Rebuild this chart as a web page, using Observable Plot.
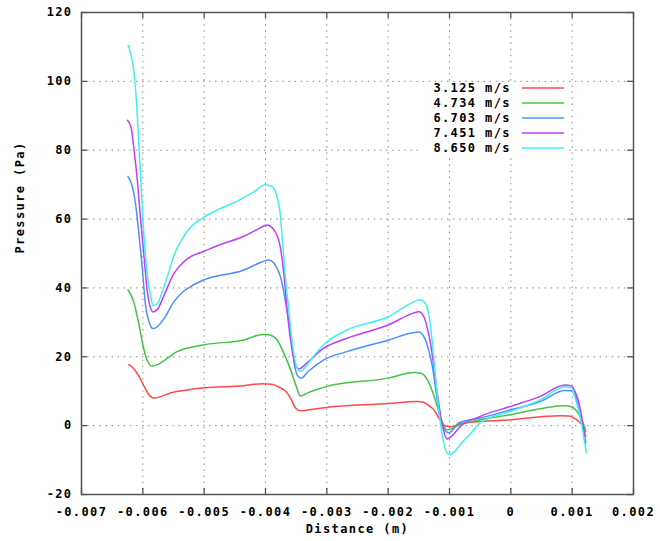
<!DOCTYPE html>
<html>
<head>
<meta charset="utf-8">
<script src="https://cdn.jsdelivr.net/npm/d3@7"></script>
<script src="https://cdn.jsdelivr.net/npm/@observablehq/plot@0.6"></script>
<style>
  html, body { margin: 0; padding: 0; background: #fff; }
  #chart svg { display: block; }
</style>
</head>
<body>
<div id="chart"></div>
<script>
// Wall pressure along the channel for five inlet velocities
const seriesNames = ["3.125 m/s", "4.734 m/s", "6.703 m/s", "7.451 m/s", "8.650 m/s"];
const seriesColors = ["#ff4a4a", "#44c444", "#4a90ff", "#c03cff", "#40f0f0"];

const xTicks = [-0.007, -0.006, -0.005, -0.004, -0.003, -0.002, -0.001, 0, 0.001, 0.002];
const yTicks = [-20, 0, 20, 40, 60, 80, 100, 120];

// [distance (m), pressure (Pa)]
const v3125 = [
  [-0.00623, 17.7], [-0.00615, 16.6], [-0.00607, 14.5], [-0.00598, 11.5], [-0.00590, 9.0],
  [-0.00582, 8.0], [-0.00570, 8.5], [-0.00555, 9.5], [-0.00530, 10.3], [-0.00500, 11.0],
  [-0.00436, 11.6], [-0.00405, 12.2], [-0.00390, 12.0], [-0.00376, 11.0], [-0.00366, 9.8],
  [-0.00358, 7.6], [-0.00351, 5.1], [-0.00343, 4.3], [-0.00330, 4.6], [-0.00300, 5.3],
  [-0.00200, 6.4], [-0.00155, 7.0], [-0.00143, 6.8], [-0.00135, 6.0], [-0.00125, 4.5],
  [-0.00115, 1.5], [-0.00105, -0.2], [-0.00095, -0.3], [-0.00082, 0.6], [0.00000, 1.7],
  [0.00080, 2.9], [0.00095, 2.8], [0.00105, 2.0], [0.00115, 0.5], [0.00122, -1.7]
];
const v4734 = [
  [-0.00624, 39.4], [-0.00616, 36.5], [-0.00607, 30.0], [-0.00600, 23.5], [-0.00594, 19.5],
  [-0.00585, 17.3], [-0.00575, 17.8], [-0.00566, 18.8], [-0.00544, 21.5], [-0.00500, 23.5],
  [-0.00435, 24.9], [-0.00405, 26.5], [-0.00395, 26.4], [-0.00381, 24.9], [-0.00370, 21.0],
  [-0.00359, 16.2], [-0.00350, 11.5], [-0.00343, 8.6], [-0.00335, 9.2], [-0.00320, 10.3],
  [-0.00300, 11.4], [-0.00200, 13.8], [-0.00158, 15.4], [-0.00148, 15.3], [-0.00136, 13.3],
  [-0.00128, 10.0], [-0.00120, 5.6], [-0.00113, 1.5], [-0.00104, -1.2], [-0.00082, 0.3],
  [0.00000, 3.2], [0.00088, 5.8], [0.00100, 5.4], [0.00110, 3.5], [0.00116, 1.5], [0.00122, -1.2]
];
const v6703 = [
  [-0.00624, 72.3], [-0.00618, 70.0], [-0.00612, 64.6], [-0.00607, 56.8], [-0.00601, 46.0],
  [-0.00596, 35.6], [-0.00590, 30.2], [-0.00583, 28.2], [-0.00576, 28.8], [-0.00565, 31.2],
  [-0.00550, 35.8], [-0.00535, 38.8], [-0.00522, 40.4], [-0.00501, 42.3], [-0.00435, 45.2],
  [-0.00405, 47.6], [-0.00395, 48.1], [-0.00384, 46.6], [-0.00373, 41.4], [-0.00366, 34.5],
  [-0.00359, 26.9], [-0.00354, 19.0], [-0.00348, 14.6], [-0.00342, 13.8], [-0.00330, 15.8],
  [-0.00305, 19.1], [-0.00267, 21.5], [-0.00199, 24.9], [-0.00160, 27.0], [-0.00150, 27.2],
  [-0.00142, 25.9], [-0.00134, 22.0], [-0.00128, 17.2], [-0.00120, 7.5], [-0.00114, 1.0],
  [-0.00101, -2.1], [-0.00085, 0.8], [-0.00050, 2.2], [0.00000, 4.6], [0.00048, 7.0],
  [0.00088, 10.2], [0.00098, 10.1], [0.00106, 8.3], [0.00111, 4.6], [0.00122, -3.1]
];
const v7451 = [
  [-0.00625, 88.7], [-0.00619, 86.5], [-0.00615, 81.0], [-0.00609, 71.3], [-0.00604, 60.7],
  [-0.00598, 49.1], [-0.00593, 39.4], [-0.00588, 34.5], [-0.00583, 33.0], [-0.00576, 33.8],
  [-0.00565, 38.0], [-0.00550, 44.0], [-0.00535, 47.3], [-0.00522, 49.1], [-0.00501, 50.6],
  [-0.00473, 52.6], [-0.00435, 55.0], [-0.00410, 57.3], [-0.00398, 58.3], [-0.00386, 56.8],
  [-0.00376, 52.0], [-0.00370, 44.0], [-0.00365, 34.0], [-0.00358, 23.5], [-0.00352, 18.0],
  [-0.00345, 16.5], [-0.00335, 17.8], [-0.00305, 22.5], [-0.00267, 25.4], [-0.00199, 29.3],
  [-0.00160, 32.6], [-0.00150, 33.1], [-0.00142, 31.7], [-0.00135, 27.5], [-0.00131, 24.0],
  [-0.00120, 9.5], [-0.00112, 0.5], [-0.00104, -3.9], [-0.00095, -2.8], [-0.00082, -0.2],
  [-0.00050, 2.7], [0.00000, 5.6], [0.00048, 8.5], [0.00088, 11.8], [0.00098, 11.6],
  [0.00106, 9.3], [0.00111, 6.6], [0.00122, -5.0]
];
const v8650 = [
  [-0.00624, 110.4], [-0.00619, 107.5], [-0.00614, 102.0], [-0.00610, 93.0], [-0.00606, 80.0],
  [-0.00602, 67.0], [-0.00598, 54.5], [-0.00593, 44.0], [-0.00588, 38.3], [-0.00583, 34.8],
  [-0.00576, 35.5], [-0.00568, 39.0], [-0.00558, 44.5], [-0.00548, 50.0], [-0.00535, 54.5],
  [-0.00522, 57.6], [-0.00501, 60.5], [-0.00473, 63.1], [-0.00446, 65.2], [-0.00420, 67.8],
  [-0.00400, 70.0], [-0.00390, 69.5], [-0.00382, 67.0], [-0.00376, 61.6], [-0.00372, 53.0],
  [-0.00367, 42.0], [-0.00362, 33.6], [-0.00356, 23.5], [-0.00350, 17.5], [-0.00343, 15.8],
  [-0.00333, 17.5], [-0.00320, 20.5], [-0.00305, 23.5], [-0.00267, 27.8], [-0.00199, 31.7],
  [-0.00160, 35.8], [-0.00148, 36.6], [-0.00139, 35.4], [-0.00133, 31.5], [-0.00128, 24.0],
  [-0.00123, 14.3], [-0.00116, 2.5], [-0.00110, -4.5], [-0.00101, -8.4], [-0.00092, -7.6],
  [-0.00080, -5.0], [-0.00065, -2.2], [-0.00050, 0.8], [0.00000, 4.2], [0.00048, 7.5],
  [0.00088, 11.3], [0.00098, 11.0], [0.00105, 8.0], [0.00114, 1.7], [0.00123, -7.9]
];

const seriesValues = [v3125, v4734, v6703, v7451, v8650];
const rows = seriesValues.flatMap((vals, i) =>
  vals.map(([x, y]) => ({series: seriesNames[i], x, y}))
);

const W = 660, H = 541;
const mL = 81, mR = 27, mT = 12, mB = 47;
const innerW = W - mL - mR, innerH = H - mT - mB;
const frameColor = "#555";
const fmt = d => (d === 0 ? "0" : d.toFixed(Number.isInteger(d) ? 0 : 3));

// Key in the upper right, with its box cleared of grid lines
function keyMark() {
  const g = d3.create("svg:g");
  g.append("rect")
    .attr("x", 421).attr("y", 83).attr("width", 147).attr("height", 71)
    .attr("fill", "#fff");
  seriesNames.forEach((name, i) => {
    const y = 88 + 15 * i;
    g.append("text")
      .attr("x", 511).attr("y", y).attr("dy", "0.35em")
      .attr("text-anchor", "end")
      .attr("fill", "#000")
      .text(name);
    g.append("line")
      .attr("x1", 522).attr("x2", 564)
      .attr("y1", y).attr("y2", y)
      .attr("stroke", seriesColors[i]).attr("stroke-width", 1.6);
  });
  return g.node();
}

const chart = Plot.plot({
  width: W,
  height: H,
  marginLeft: mL,
  marginRight: mR,
  marginTop: mT,
  marginBottom: mB,
  style: {
    fontFamily: "'DejaVu Sans Mono', monospace",
    fontWeight: "bold",
    fontSize: "12px",
    letterSpacing: "1.4px",
    color: "#000",
    background: "#fff"
  },
  x: {domain: [-0.007, 0.002]},
  y: {domain: [-20, 120]},
  color: {domain: seriesNames, range: seriesColors},
  marks: [
    // dotted grid at interior ticks
    Plot.gridX(xTicks.slice(1, -1), {stroke: "#8a8a8a", strokeOpacity: 1, strokeWidth: 1, strokeDasharray: "1.5,4.6"}),
    Plot.gridY(yTicks.slice(1, -1), {stroke: "#8a8a8a", strokeOpacity: 1, strokeWidth: 1, strokeDasharray: "1.5,4.6"}),
    keyMark,
    // inward tick marks on all four sides
    Plot.tickY(yTicks, {y: d => d, stroke: frameColor, strokeWidth: 1.3, insetRight: innerW - 6}),
    Plot.tickY(yTicks, {y: d => d, stroke: frameColor, strokeWidth: 1.3, insetLeft: innerW - 6}),
    Plot.tickX(xTicks, {x: d => d, stroke: frameColor, strokeWidth: 1.3, insetTop: innerH - 6}),
    Plot.tickX(xTicks, {x: d => d, stroke: frameColor, strokeWidth: 1.3, insetBottom: innerH - 6}),
    Plot.frame({stroke: frameColor, strokeWidth: 1.5}),
    Plot.axisX({ticks: xTicks, tickFormat: fmt, tickSize: 0, tickPadding: 13, label: null}),
    Plot.axisY({ticks: yTicks, tickFormat: fmt, tickSize: 0, tickPadding: 9, label: null}),
    Plot.text(["Distance (m)"], {frameAnchor: "bottom", dy: 38, fill: "#000"}),
    Plot.text(["Pressure (Pa)"], {frameAnchor: "left", dx: -61, rotate: -90, fill: "#000"}),
    Plot.line(rows, {x: "x", y: "y", z: "series", stroke: "series", strokeWidth: 1.5, curve: "monotone-x"})
  ]
});

document.getElementById("chart").appendChild(chart);
</script>
</body>
</html>
